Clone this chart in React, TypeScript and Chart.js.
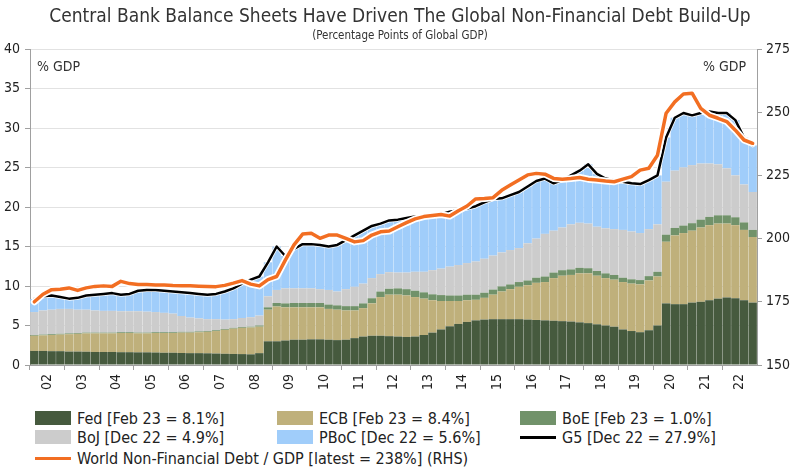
import React, { useEffect, useRef } from 'react';
import { Chart, registerables } from 'chart.js';

Chart.register(...registerables);

// ---- categories ----
const years = ['02','03','04','05','06','07','08','09','10','11','12','13','14','15','16','17','18','19','20','21','22'];
const quarterLabels = years.flatMap((y) => ['Q1', 'Q2', 'Q3', 'Q4'].map((q) => `${q} ${y}`));

// ---- series (% of global GDP, quarterly) ----
const fed = [
  1.78,1.78,1.75,1.75, 1.70,1.70,1.68,1.65, 1.65,1.65,1.62,1.62, 1.60,1.60,1.58,1.55,
  1.55,1.52,1.50,1.50, 1.48,1.45,1.42,1.40, 1.38,1.35,1.50,3.00, 3.00,3.10,3.20,3.20,
  3.25,3.25,3.20,3.15, 3.20,3.40,3.60,3.70, 3.70,3.65,3.60,3.55, 3.60,3.80,4.10,4.50,
  4.90,5.20,5.45,5.65, 5.75,5.80,5.80,5.80, 5.80,5.75,5.70,5.65, 5.60,5.55,5.50,5.40,
  5.30,5.15,5.00,4.85, 4.50,4.30,4.15,4.40, 5.00,7.80,7.70,7.70, 7.90,8.00,8.20,8.40,
  8.55,8.45,8.20,7.90,
];
const ecb = [
  1.92,1.97,2.05,2.10, 2.20,2.25,2.32,2.35, 2.35,2.35,2.43,2.43, 2.40,2.40,2.47,2.50,
  2.50,2.58,2.60,2.65, 2.72,2.85,3.03,3.20, 3.32,3.40,3.35,4.00, 4.40,4.20,4.10,4.10,
  4.05,4.05,3.90,3.85, 3.70,3.50,3.60,4.10, 4.90,5.25,5.30,5.25, 5.00,4.60,4.10,3.60,
  3.20,2.90,2.75,2.60, 2.75,3.10,3.50,3.80, 4.10,4.35,4.70,4.85, 5.40,5.75,5.90,6.20,
  6.30,6.15,6.00,5.95, 6.00,6.00,6.05,6.30, 6.20,7.80,8.70,9.00, 9.10,9.40,9.50,9.50,
  9.35,9.25,8.90,8.30,
];
const boe = [
  0.10,0.10,0.10,0.10, 0.10,0.10,0.10,0.10, 0.10,0.10,0.10,0.10, 0.10,0.10,0.10,0.10,
  0.10,0.10,0.10,0.10, 0.10,0.10,0.10,0.10, 0.10,0.10,0.15,0.30, 0.45,0.50,0.55,0.55,
  0.55,0.55,0.55,0.55, 0.55,0.55,0.60,0.65, 0.70,0.75,0.80,0.80, 0.80,0.80,0.75,0.75,
  0.70,0.70,0.70,0.65, 0.65,0.65,0.65,0.60, 0.60,0.60,0.65,0.70, 0.70,0.70,0.70,0.70,
  0.65,0.60,0.60,0.60, 0.55,0.55,0.55,0.55, 0.60,0.90,0.95,0.95, 0.95,1.00,1.05,1.05,
  1.05,1.00,0.95,0.90,
];
const boj = [
  2.90,3.05,3.10,3.15, 3.10,2.95,2.90,2.80, 2.75,2.75,2.65,2.65, 2.70,2.65,2.55,2.45,
  2.35,2.00,1.80,1.65, 1.50,1.40,1.20,1.10, 1.15,1.20,1.25,1.40, 1.65,1.90,1.85,1.85,
  1.85,1.75,1.85,1.75, 2.15,2.45,2.50,2.55, 2.20,2.10,2.00,2.10, 2.40,2.60,3.05,3.35,
  3.65,3.85,4.00,4.20, 4.30,4.30,4.30,4.35, 4.30,4.70,4.95,5.40, 5.30,5.40,5.70,5.70,
  5.65,5.60,5.70,5.80, 6.05,6.05,5.95,5.95, 6.00,6.70,7.25,7.35, 7.35,7.10,6.75,6.45,
  5.95,5.30,4.80,4.80,
];
const pboc = [
  1.65,1.80,1.80,1.50, 1.30,1.50,1.80,2.00, 2.15,2.25,2.10,2.20, 2.60,2.75,2.80,2.80,
  2.80,3.00,3.10,3.10, 3.10,3.20,3.55,3.90, 4.35,4.75,4.95,4.30, 5.50,4.10,5.00,5.60,
  5.60,5.60,5.50,5.90, 6.20,6.50,6.70,6.60, 6.40,6.55,6.70,6.90, 7.00,6.90,6.90,6.90,
  6.95,6.95,6.90,7.00, 7.15,7.15,6.85,6.95, 7.10,7.20,7.30,7.00, 6.00,6.00,6.20,6.60,
  7.50,6.70,6.30,6.20, 6.10,6.10,6.20,6.20, 6.20,5.60,6.70,6.90, 6.30,6.40,6.60,6.50,
  7.00,7.00,5.95,5.90,
];
const g5 = [
  8.35,8.70,8.80,8.60, 8.40,8.50,8.80,8.90, 9.00,9.10,8.90,9.00, 9.40,9.50,9.50,9.40,
  9.30,9.20,9.10,9.00, 8.90,9.00,9.30,9.70, 10.30,10.80,11.20,13.00, 15.00,13.80,14.70,15.30,
  15.30,15.20,15.00,15.20, 15.80,16.40,17.00,17.60, 17.90,18.30,18.40,18.60, 18.80,18.70,18.90,19.10,
  19.40,19.60,19.80,20.10, 20.60,21.00,21.10,21.50, 21.90,22.60,23.30,23.60, 23.00,23.40,24.00,24.60,
  25.40,24.20,23.60,23.40, 23.20,23.00,22.90,23.40, 24.00,28.80,31.30,31.90, 31.60,31.90,32.10,31.90,
  31.90,31.00,28.80,27.80,
];
// World non-financial debt / GDP (%, RHS)
const worldDebt = [
  175.0,178.0,179.8,180.0, 180.5,179.5,180.5,181.1, 181.3,181.1,183.1,182.2, 181.8,181.8,181.6,181.6,
  181.4,181.3,181.3,181.2, 181.1,181.0,181.5,182.4, 183.4,182.0,181.3,183.8, 185.0,191.5,197.5,201.8,
  202.1,200.1,201.4,201.4, 200.1,198.7,199.2,201.4, 202.7,203.0,204.7,206.3, 207.8,208.7,209.1,209.5,
  208.9,211.0,212.9,215.7, 215.9,216.2,219.1,221.2, 223.2,225.2,225.8,225.5, 223.8,223.5,223.8,224.2,
  223.5,223.2,222.8,222.5, 223.5,224.5,227.1,227.8, 233.0,249.6,254.1,257.2, 257.5,251.5,248.8,247.6,
  246.3,242.9,239.0,237.7,
];

const legendItems = [
  { label: 'Fed [Feb 23 = 8.1%]', color: '#465a3e', kind: 'box', row: 0, col: 0 },
  { label: 'ECB [Feb 23 = 8.4%]', color: '#bfb07b', kind: 'box', row: 0, col: 1 },
  { label: 'BoE [Feb 23 = 1.0%]', color: '#71926a', kind: 'box', row: 0, col: 2 },
  { label: 'BoJ [Dec 22 = 4.9%]', color: '#cccccc', kind: 'box', row: 1, col: 0 },
  { label: 'PBoC [Dec 22 = 5.6%]', color: '#a0cdfa', kind: 'box', row: 1, col: 1 },
  { label: 'G5 [Dec 22 = 27.9%]', color: '#000000', kind: 'line', row: 1, col: 2 },
  { label: 'World Non-Financial Debt / GDP [latest = 238%] (RHS)', color: '#f26e22', kind: 'line', row: 2, col: 0 },
];

const FONT = '"DejaVu Sans Condensed", "DejaVu Sans", sans-serif';
const AXIS = '#a0a0a0';
const TEXT = '#222222';

export default function App() {
  const ref = useRef<HTMLCanvasElement>(null);

  useEffect(() => {
    if (!ref.current) return;
    const tickFont = { family: FONT, size: 14 };
    const chart = new Chart(ref.current, {
      type: 'bar',
      data: {
        labels: quarterLabels,
        datasets: [
          { type: 'line', label: 'World', data: worldDebt, yAxisID: 'y1', borderColor: '#f26e22', borderWidth: 3.5, pointRadius: 0, order: 1, stack: 'w1' } as any,
          { type: 'line', label: 'World halo', data: worldDebt, yAxisID: 'y1', borderColor: '#ffffff', borderWidth: 7, pointRadius: 0, order: 2, stack: 'w2' } as any,
          { type: 'line', label: 'G5', data: g5, yAxisID: 'y', borderColor: '#000000', borderWidth: 2.5, pointRadius: 0, order: 3, stack: 'g1' } as any,
          { type: 'line', label: 'G5 halo', data: g5, yAxisID: 'y', borderColor: '#ffffff', borderWidth: 4, pointRadius: 0, order: 4, stack: 'g2' } as any,
          { type: 'bar', label: 'Fed', data: fed, backgroundColor: '#465a3e', yAxisID: 'y', stack: 'cb', order: 5 },
          { type: 'bar', label: 'ECB', data: ecb, backgroundColor: '#bfb07b', yAxisID: 'y', stack: 'cb', order: 6 },
          { type: 'bar', label: 'BoE', data: boe, backgroundColor: '#71926a', yAxisID: 'y', stack: 'cb', order: 7 },
          { type: 'bar', label: 'BoJ', data: boj, backgroundColor: '#cccccc', yAxisID: 'y', stack: 'cb', order: 8 },
          { type: 'bar', label: 'PBoC', data: pboc, backgroundColor: '#a0cdfa', yAxisID: 'y', stack: 'cb', order: 9 },
        ],
      },
      options: {
        responsive: false,
        animation: false,
        layout: { padding: { top: 49, left: 0, right: 0, bottom: 0 } },
        plugins: { legend: { display: false }, tooltip: { enabled: false }, title: { display: false } },
        datasets: { bar: { barPercentage: 0.97, categoryPercentage: 1, borderWidth: 0 } } as any,
        elements: { line: { tension: 0, borderJoinStyle: 'round', borderCapStyle: 'round' } },
        scales: {
          x: {
            stacked: true,
            offset: true,
            grid: {
              offset: true,
              drawOnChartArea: false,
              drawTicks: true,
              tickLength: 5,
              tickColor: (ctx: any) => (typeof ctx.index === 'number' && ctx.index % 4 === 0 ? AXIS : 'rgba(0,0,0,0)'),
            },
            border: { color: AXIS, width: 1 },
            ticks: {
              autoSkip: false,
              maxRotation: 90,
              minRotation: 90,
              labelOffset: 4.33,
              padding: 4,
              color: TEXT,
              font: tickFont,
              callback: (_v: any, i: number) => (i % 4 === 1 ? years[Math.floor(i / 4)] : ''),
            },
            afterFit: (s: any) => { s.height = 35; },
          },
          y: {
            stacked: true,
            position: 'left',
            min: 0,
            max: 40,
            ticks: { stepSize: 5, color: TEXT, font: tickFont, padding: 5 },
            grid: { color: '#e2e2e2', tickColor: AXIS, tickLength: 5 },
            border: { color: AXIS },
            afterFit: (s: any) => { s.width = 30; },
          },
          y1: {
            position: 'right',
            min: 150,
            max: 275,
            ticks: { stepSize: 25, color: TEXT, font: tickFont, padding: 4 },
            grid: { drawOnChartArea: false, tickColor: AXIS, tickLength: 5 },
            border: { color: AXIS },
            afterFit: (s: any) => { s.width = 43; },
          },
        },
      } as any,
    });
    return () => chart.destroy();
  }, []);

  const colX = [35, 277, 520];
  const rowY = [418, 437, 458];

  return (
    <div style={{ position: 'fixed', left: 0, top: 0, width: 800, height: 476, background: '#fff', fontFamily: FONT, color: TEXT, overflow: 'hidden' }}>
      <canvas ref={ref} width={800} height={400} style={{ position: 'absolute', left: 0, top: 0, width: 800, height: 400 }} />
      <div style={{ position: 'absolute', left: 0, top: 4, width: 800, textAlign: 'center', fontSize: 19, color: '#333', whiteSpace: 'nowrap' }}>
        Central Bank Balance Sheets Have Driven The Global Non-Financial Debt Build-Up
      </div>
      <div style={{ position: 'absolute', left: 0, top: 28, width: 800, textAlign: 'center', fontSize: 11.5, color: '#333', whiteSpace: 'nowrap' }}>
        (Percentage Points of Global GDP)
      </div>
      <div style={{ position: 'absolute', left: 37, top: 58, fontSize: 14, color: '#333' }}>% GDP</div>
      <div style={{ position: 'absolute', left: 703, top: 58, fontSize: 14, color: '#333' }}>% GDP</div>
      {legendItems.map((it) => (
        <div key={it.label} style={{ position: 'absolute', left: colX[it.col], top: rowY[it.row] - 10, height: 20, display: 'flex', alignItems: 'center', whiteSpace: 'nowrap', fontSize: 16 }}>
          <div style={{ width: 36, height: it.kind === 'box' ? 14 : 3, background: it.color, marginRight: 6 }} />
          <span>{it.label}</span>
        </div>
      ))}
    </div>
  );
}
